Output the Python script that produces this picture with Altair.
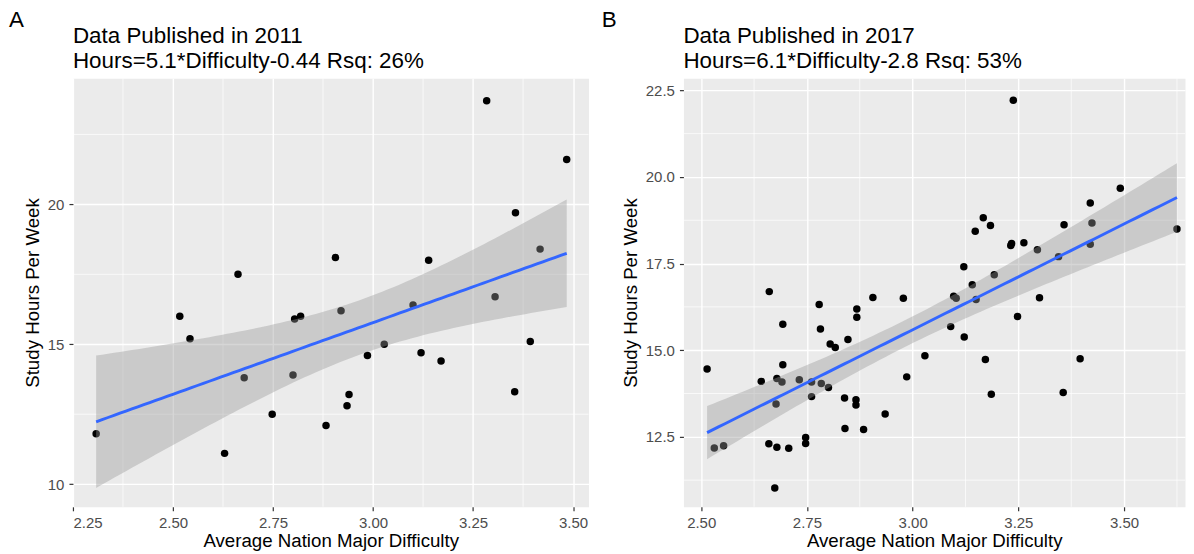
import altair as alt
import numpy as np
import pandas as pd

FONT = "Liberation Sans"

# ---- Data published in 2011 ----
x2011 = [2.308, 2.517, 2.5425, 2.629, 2.6625, 2.678, 2.748, 2.804, 2.800, 2.819,
         2.8825, 2.906, 2.920, 2.935, 2.940, 2.986, 3.028, 3.100, 3.120, 3.139,
         3.170, 3.284, 3.305, 3.354, 3.356, 3.393, 3.4175, 3.484]
y2011 = [11.8, 16.0, 15.2, 11.1, 17.5, 13.8, 12.5, 15.9, 13.9, 16.0,
         12.1, 18.1, 16.2, 12.8, 13.2, 14.6, 15.0, 16.4, 14.7, 18.0,
         14.4, 23.7, 16.7, 13.3, 19.7, 15.1, 18.4, 21.6]

# ---- Data published in 2017 ----
x2017 = [2.514, 2.531, 2.553, 2.642, 2.660, 2.661, 2.674, 2.677, 2.679, 2.679,
         2.691, 2.693, 2.693, 2.707, 2.732, 2.747, 2.747, 2.761, 2.761, 2.779,
         2.782, 2.784, 2.801, 2.805, 2.817, 2.839, 2.840, 2.847, 2.866, 2.866,
         2.868, 2.868, 2.884, 2.906, 2.935, 2.978, 2.986, 3.029, 3.090, 3.097,
         3.103, 3.121, 3.122, 3.141, 3.148, 3.150, 3.167, 3.172, 3.184, 3.186,
         3.193, 3.232, 3.234, 3.238, 3.248, 3.263, 3.295, 3.300, 3.345, 3.356,
         3.358, 3.396, 3.420, 3.424, 3.420, 3.491, 3.625]
y2017 = [14.46, 12.18, 12.24, 14.10, 12.30, 16.69, 11.02, 13.45, 14.18, 12.20,
         14.08, 15.75, 14.58, 12.17, 14.15, 12.48, 12.31, 14.08, 13.66, 16.32,
         15.61, 14.04, 13.92, 15.18, 15.08, 13.62, 12.74, 15.31, 13.57, 13.42,
         16.19, 15.95, 12.71, 16.52, 13.16, 16.50, 14.23, 14.84, 15.68, 16.56,
         16.50, 17.41, 15.38, 16.89, 18.43, 16.46, 18.82, 14.73, 18.60, 13.73,
         17.18, 18.02, 18.08, 22.21, 15.97, 18.10, 17.90, 16.51, 17.70, 13.78,
         18.62, 14.75, 19.25, 18.67, 18.06, 19.67, 18.50]

titles2011 = ["Data Published in 2011", "Hours=5.1*Difficulty-0.44 Rsq: 26%"]
titles2017 = ["Data Published in 2017", "Hours=6.1*Difficulty-2.8 Rsq: 53%"]

xticks2011 = [2.25, 2.50, 2.75, 3.00, 3.25, 3.50]
yticks2011 = [10, 15, 20]
xminor2011 = [2.375, 2.625, 2.875, 3.125, 3.375]
yminor2011 = [12.5, 17.5, 22.5]

xticks2017 = [2.50, 2.75, 3.00, 3.25, 3.50]
yticks2017 = [12.5, 15.0, 17.5, 20.0, 22.5]
xminor2017 = [2.625, 2.875, 3.125, 3.375, 3.625]
yminor2017 = [11.25, 13.75, 16.25, 18.75, 21.25]


def t975(df):
    z = 1.959964
    g1 = (z**3 + z) / 4
    g2 = (5 * z**5 + 16 * z**3 + 3 * z) / 96
    g3 = (3 * z**7 + 19 * z**5 + 17 * z**3 - 15 * z) / 384
    return z + g1 / df + g2 / df**2 + g3 / df**3


def smooth(xs, ys):
    x = np.asarray(xs, float)
    y = np.asarray(ys, float)
    n = len(x)
    b, a = np.polyfit(x, y, 1)
    res = y - (a + b * x)
    s = np.sqrt((res**2).sum() / (n - 2))
    xbar = x.mean()
    sxx = ((x - xbar) ** 2).sum()
    g = np.linspace(x.min(), x.max(), 80)
    fit = a + b * g
    se = s * np.sqrt(1.0 / n + (g - xbar) ** 2 / sxx)
    t = t975(n - 2)
    return pd.DataFrame({"x": g, "fit": fit, "lo": fit - t * se, "hi": fit + t * se})


def label(text, x, y):
    return alt.Chart(pd.DataFrame({"t": [text]})).mark_text(
        align="left", baseline="alphabetic", fontSize=22.4, font=FONT, color="black"
    ).encode(x=alt.value(x), y=alt.value(y), text="t:N")


def panel(xs, ys, xdom, ydom, xticks, yticks, xminor, yminor, xfmt, yfmt,
          title_lines, tag, tag_x, width, height, ytp):
    pts = pd.DataFrame({"x": xs, "y": ys})
    band = smooth(xs, ys)
    xscale = alt.Scale(domain=xdom, nice=False, zero=False)
    yscale = alt.Scale(domain=ydom, nice=False, zero=False)
    xaxis = alt.Axis(values=xticks, format=xfmt, title="Average Nation Major Difficulty",
                     titlePadding=1)
    yaxis = alt.Axis(values=yticks, format=yfmt, title="Study Hours Per Week",
                     titlePadding=ytp)
    X = lambda f: alt.X(f, scale=xscale, axis=xaxis)
    Y = lambda f: alt.Y(f, scale=yscale, axis=yaxis)

    xm = alt.Chart(pd.DataFrame({"x": xminor})).mark_rule(
        color="white", strokeWidth=0.7).encode(x=X("x:Q"))
    ym = alt.Chart(pd.DataFrame({"y": yminor})).mark_rule(
        color="white", strokeWidth=0.7).encode(y=Y("y:Q"))
    points = alt.Chart(pts).mark_circle(size=56, color="black", opacity=1).encode(
        x=X("x:Q"), y=Y("y:Q"))
    ribbon = alt.Chart(band).mark_area(color="#999999", opacity=0.4).encode(
        x=X("x:Q"), y=Y("lo:Q"), y2="hi:Q")
    line = alt.Chart(band).mark_line(color="#3366FF", strokeWidth=2.9).encode(
        x=X("x:Q"), y=Y("fit:Q"))
    tagt = label(tag, tag_x, -51)
    t1 = label(title_lines[0], 0, -35.5)
    t2 = label(title_lines[1], 0, -10)

    return alt.layer(xm, ym, points, ribbon, line, tagt, t1, t2).properties(
        width=width, height=height,
    )


left = panel(x2011, y2011, [2.25, 3.5385], [9.19, 24.51], xticks2011, yticks2011,
             xminor2011, yminor2011, ".2f", "d", titles2011, "A", -64, 516, 429, 4.5)
right = panel(x2017, y2017, [2.458, 3.644], [10.48, 22.85], xticks2017, yticks2017,
              xminor2017, yminor2017, ".2f", ".1f", titles2017, "B", -81.7, 502, 429, 4.5)

chart = alt.hconcat(left, right, spacing=11).properties(
    padding={"left": 0, "top": 0, "right": 0, "bottom": 0},
    background="white",
).configure_view(
    fill="#EBEBEB", stroke="transparent"
).configure_axis(
    domain=False, grid=True, gridColor="white", gridWidth=1.4,
    tickColor="#333333", tickWidth=1.2, tickSize=4,
    labelColor="#4D4D4D", labelFont=FONT, labelFontSize=15, labelPadding=5,
    titleColor="black", titleFont=FONT, titleFontSize=18.7, titleFontWeight="normal",
)

chart.save("out.html", embed_options={"renderer": "svg", "actions": False})
